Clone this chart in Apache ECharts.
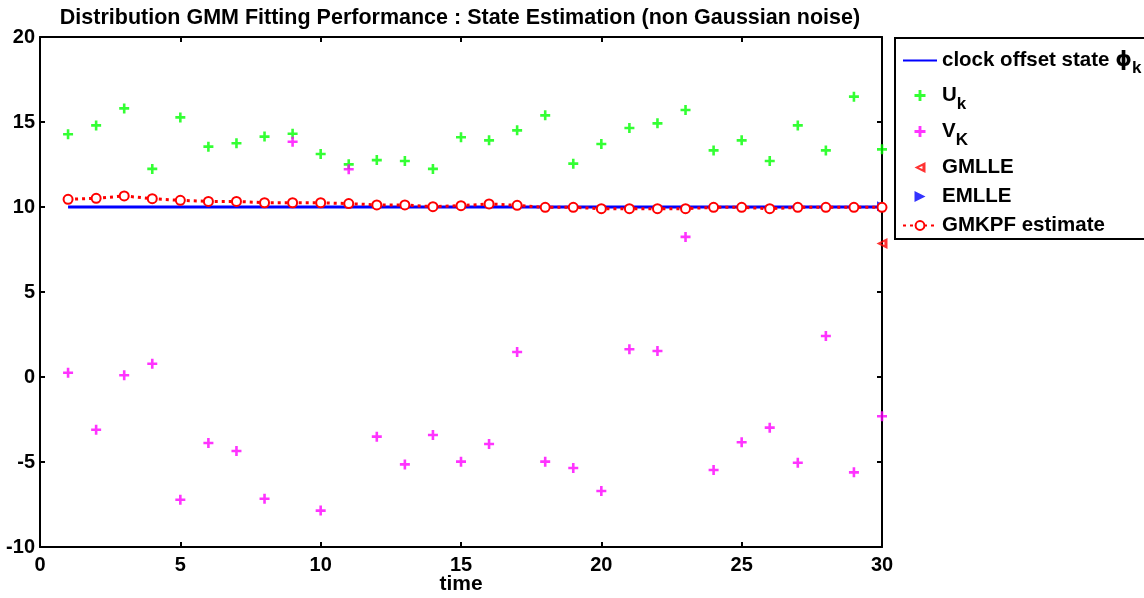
<!DOCTYPE html>
<html>
<head>
<meta charset="utf-8">
<script src="https://cdn.jsdelivr.net/npm/echarts@6/dist/echarts.min.js"></script>
<style>
html,body{margin:0;padding:0;background:#fff;}
#chart{width:1144px;height:598px;}
</style>
</head>
<body>
<div id="chart"></div>
<script>
var times = [1,2,3,4,5,6,7,8,9,10,11,12,13,14,15,16,17,18,19,20,21,22,23,24,25,26,27,28,29,30];
var clockState = [10,10,10,10,10,10,10,10,10,10,10,10,10,10,10,10,10,10,10,10,10,10,10,10,10,10,10,10,10,10];
var uValues = [14.28,14.80,15.80,12.24,15.27,13.55,13.75,14.14,14.31,13.12,12.51,12.76,12.71,12.24,14.10,13.92,14.51,15.39,12.55,13.71,14.65,14.92,15.71,13.33,13.92,12.71,14.80,13.33,16.49,13.39];
var vValues = [0.25,-3.10,0.10,0.78,-7.22,-3.88,-4.35,-7.16,13.84,-7.86,12.22,-3.51,-5.14,-3.41,-4.98,-3.94,1.47,-4.98,-5.35,-6.71,1.63,1.53,8.24,-5.47,-3.84,-2.98,-5.04,2.41,-5.61,-2.31];
var gmkpfValues = [10.45,10.51,10.65,10.49,10.39,10.33,10.33,10.25,10.25,10.25,10.20,10.12,10.12,10.02,10.08,10.18,10.10,9.98,9.98,9.90,9.90,9.90,9.90,9.98,9.98,9.90,9.98,9.98,9.98,9.98];
var gmlleTime = [30];
var gmlleValues = [7.86];
var emlleTime = [30];
var emlleValues = [10.05];
var xTicks = {min:0, max:30, interval:5};
var yTicks = {min:-10, max:20, interval:5};

function pairs(xs, ys){ return xs.map(function(x,i){ return [x, ys[i]]; }); }

var FONT = 'Liberation Sans, Arial, sans-serif';
var plusPath = 'path://M3.7,0h2.6v3.7h3.7v2.6h-3.7v3.7h-2.6v-3.7h-3.7v-2.6h3.7z';
var triLeft = 'path://M10,0L0,5L10,10Z M7.2,3.6L7.2,6.4L4,5Z';
var triRight = 'path://M0,0L10,5L0,10Z M2.8,3.6L6,5L2.8,6.4Z';

var chart = echarts.init(document.getElementById('chart'));
function axisCommon(){
  return {
    axisLine:{show:true, onZero:false, lineStyle:{color:'#000', width:2}},
    axisTick:{show:true, inside:true, length:5, lineStyle:{color:'#000', width:2}},
    splitLine:{show:false}
  };
}
var labelStyle = {color:'#000', fontWeight:'bold', fontSize:20, fontFamily:FONT};

chart.setOption({
  animation:false,
  backgroundColor:'#fff',
  title:{
    text:'Distribution GMM Fitting Performance : State Estimation (non Gaussian noise)',
    left:455, top:2, textAlign:'center',
    textStyle:{color:'#000', fontWeight:'bold', fontSize:21.5, fontFamily:FONT}
  },
  grid:{left:40, right:262, top:37, bottom:51, containLabel:false, outerBoundsMode:'none'},
  xAxis:[
    Object.assign({type:'value', position:'bottom', min:xTicks.min, max:xTicks.max, interval:xTicks.interval,
      name:'time', nameLocation:'middle', nameGap:27, nameMoveOverlap:false,
      nameTextStyle:{color:'#000', fontWeight:'bold', fontSize:21, fontFamily:FONT},
      axisLabel:Object.assign({margin:8}, labelStyle)}, axisCommon()),
    Object.assign({type:'value', position:'top', min:xTicks.min, max:xTicks.max, interval:xTicks.interval,
      axisLabel:{show:false}}, axisCommon())
  ],
  yAxis:[
    Object.assign({type:'value', position:'left', min:yTicks.min, max:yTicks.max, interval:yTicks.interval,
      axisLabel:Object.assign({margin:5}, labelStyle)}, axisCommon()),
    Object.assign({type:'value', position:'right', min:yTicks.min, max:yTicks.max, interval:yTicks.interval,
      axisLabel:{show:false}}, axisCommon())
  ],
  legend:{
    orient:'vertical', left:895, top:38,
    borderColor:'#000', borderWidth:2, borderRadius:0,
    padding:[12, 60, 3, 7], itemWidth:34, itemHeight:11, itemGap:8,
    backgroundColor:'#fff',
    textStyle:{color:'#000', fontWeight:'bold', fontSize:20.5, fontFamily:FONT,
      rich:{
        b:{fontWeight:'bold', fontSize:20.5, fontFamily:FONT, color:'#000'},
        phi:{fontSize:21, fontFamily:'DejaVu Sans', color:'#000'},
        sub:{fontWeight:'bold', fontSize:17, fontFamily:FONT, color:'#000', padding:[16,0,0,0]},
        subV:{fontWeight:'bold', fontSize:17, fontFamily:FONT, color:'#000', padding:[18,0,0,0]}
      }
    },
    formatter:function(name){
      if(name==='clock offset state') return '{b|clock offset state }{phi|ϕ}{sub|k}';
      if(name==='U') return '{b|U}{subV|k}';
      if(name==='V') return '{b|V}{subV|K}';
      return '{b|' + name + '}';
    },
    data:[
      {name:'clock offset state', itemStyle:{opacity:0}},
      {name:'U'},
      {name:'V'},
      {name:'GMLLE', icon:triLeft},
      {name:'EMLLE', icon:triRight},
      {name:'GMKPF estimate'}
    ]
  },
  series:[
    {name:'clock offset state', type:'line', data:pairs(times, clockState), symbol:'none',
      lineStyle:{color:'#0000ff', width:3}, itemStyle:{color:'#0000ff'}, z:2},
    {name:'U', type:'scatter', data:pairs(times, uValues), symbol:plusPath, symbolSize:10,
      itemStyle:{color:'#00ff00'}, clip:false, z:3},
    {name:'V', type:'scatter', data:pairs(times, vValues), symbol:plusPath, symbolSize:10,
      itemStyle:{color:'#ff00ff'}, clip:false, z:3},
    {name:'GMLLE', type:'scatter', data:pairs(gmlleTime, gmlleValues), symbol:triLeft, symbolSize:11,
      itemStyle:{color:'#ff0000'}, clip:false, z:4},
    {name:'EMLLE', type:'scatter', data:pairs(emlleTime, emlleValues), symbol:triRight, symbolSize:10,
      itemStyle:{color:'#0000ff'}, clip:false, z:4},
    {name:'GMKPF estimate', type:'line', data:pairs(times, gmkpfValues), symbol:'emptyCircle', symbolSize:9,
      showAllSymbol:true,
      lineStyle:{color:'#ff0000', width:3, type:[3,4]}, itemStyle:{color:'#ff0000', borderColor:'#ff0000', borderWidth:3}, z:5}
  ]
});
</script>
</body>
</html>
